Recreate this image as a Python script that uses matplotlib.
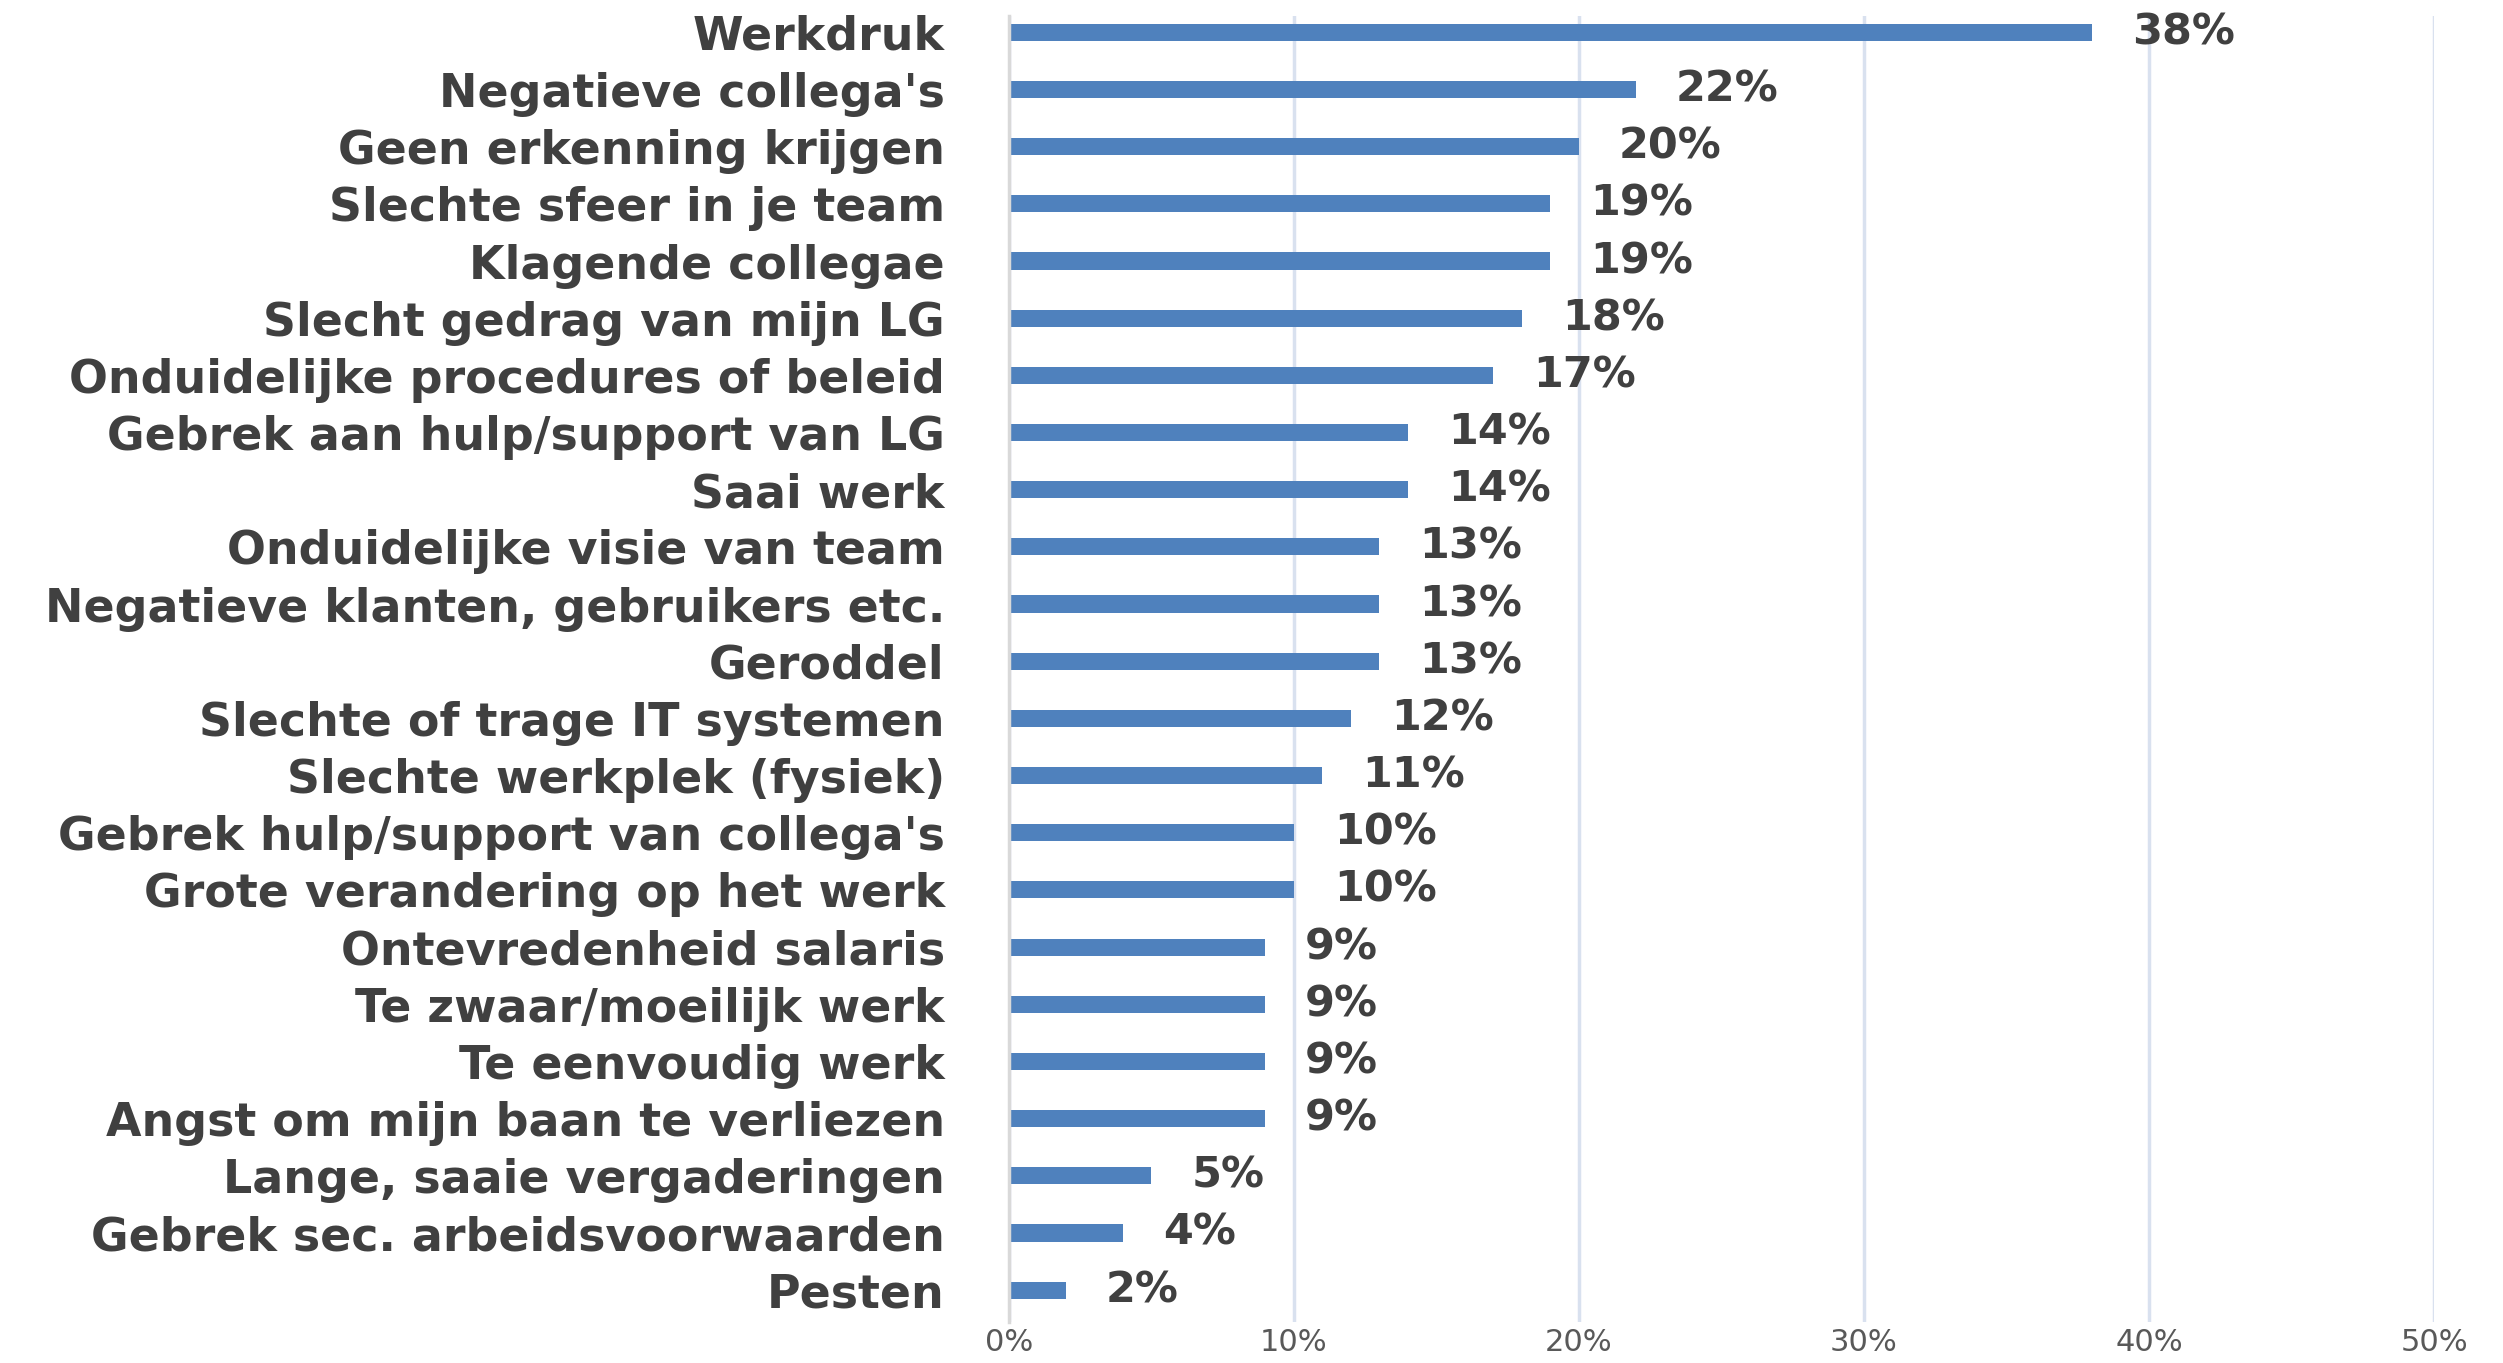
import numpy as np
import matplotlib
matplotlib.use('Agg')
import matplotlib.pyplot as plt

# data
categories = ['Werkdruk', "Negatieve collega's", 'Geen erkenning krijgen',
              'Slechte sfeer in je team', 'Klagende collegae',
              'Slecht gedrag van mijn LG', 'Onduidelijke procedures of beleid',
              'Gebrek aan hulp/support van LG', 'Saai werk',
              'Onduidelijke visie van team', 'Negatieve klanten, gebruikers etc.',
              'Geroddel', 'Slechte of trage IT systemen',
              'Slechte werkplek (fysiek)', "Gebrek hulp/support van collega's",
              'Grote verandering op het werk', 'Ontevredenheid salaris',
              'Te zwaar/moeilijk werk', 'Te eenvoudig werk',
              'Angst om mijn baan te verliezen', 'Lange, saaie vergaderingen',
              'Gebrek sec. arbeidsvoorwaarden', 'Pesten']
values = [38, 22, 20, 19, 19, 18, 17, 14, 14, 13, 13, 13, 12, 11, 10, 10,
          9, 9, 9, 9, 5, 4, 2]
xticks = [0, 10, 20, 30, 40, 50]

bar_color = '#4F81BD'
text_color = '#404040'

fig = plt.figure(figsize=(25.03, 13.63), dpi=100)
ax = fig.add_axes([0.403, 0.030, 0.5695, 0.958])

y = np.arange(len(categories))
ax.barh(y, values, height=0.3, color=bar_color, zorder=2)

for yi, v in zip(y, values):
    ax.text(v + 1.4, yi, '%d%%' % v, va='center', ha='left',
            fontsize=31, fontweight='bold', color=text_color)

ax.set_yticks(y)
ax.set_yticklabels(categories, fontsize=33, fontweight='bold', color=text_color)
ax.set_xticks(xticks)
ax.set_xticklabels(['%d%%' % t for t in xticks], fontsize=22, color='#595959')
ax.set_xlim(0, 50)
ax.set_ylim(len(categories) - 1 + 0.56, -0.28)

ax.tick_params(axis='y', length=0, pad=46)
ax.tick_params(axis='x', length=0, pad=4)
ax.grid(axis='x', color='#D9E1EF', linewidth=2.5, zorder=0)
for s in ['top', 'right', 'bottom']:
    ax.spines[s].set_visible(False)
ax.spines['left'].set_color('#D9D9D9')
ax.spines['left'].set_linewidth(2.5)

fig.savefig('out.png', dpi=100)
